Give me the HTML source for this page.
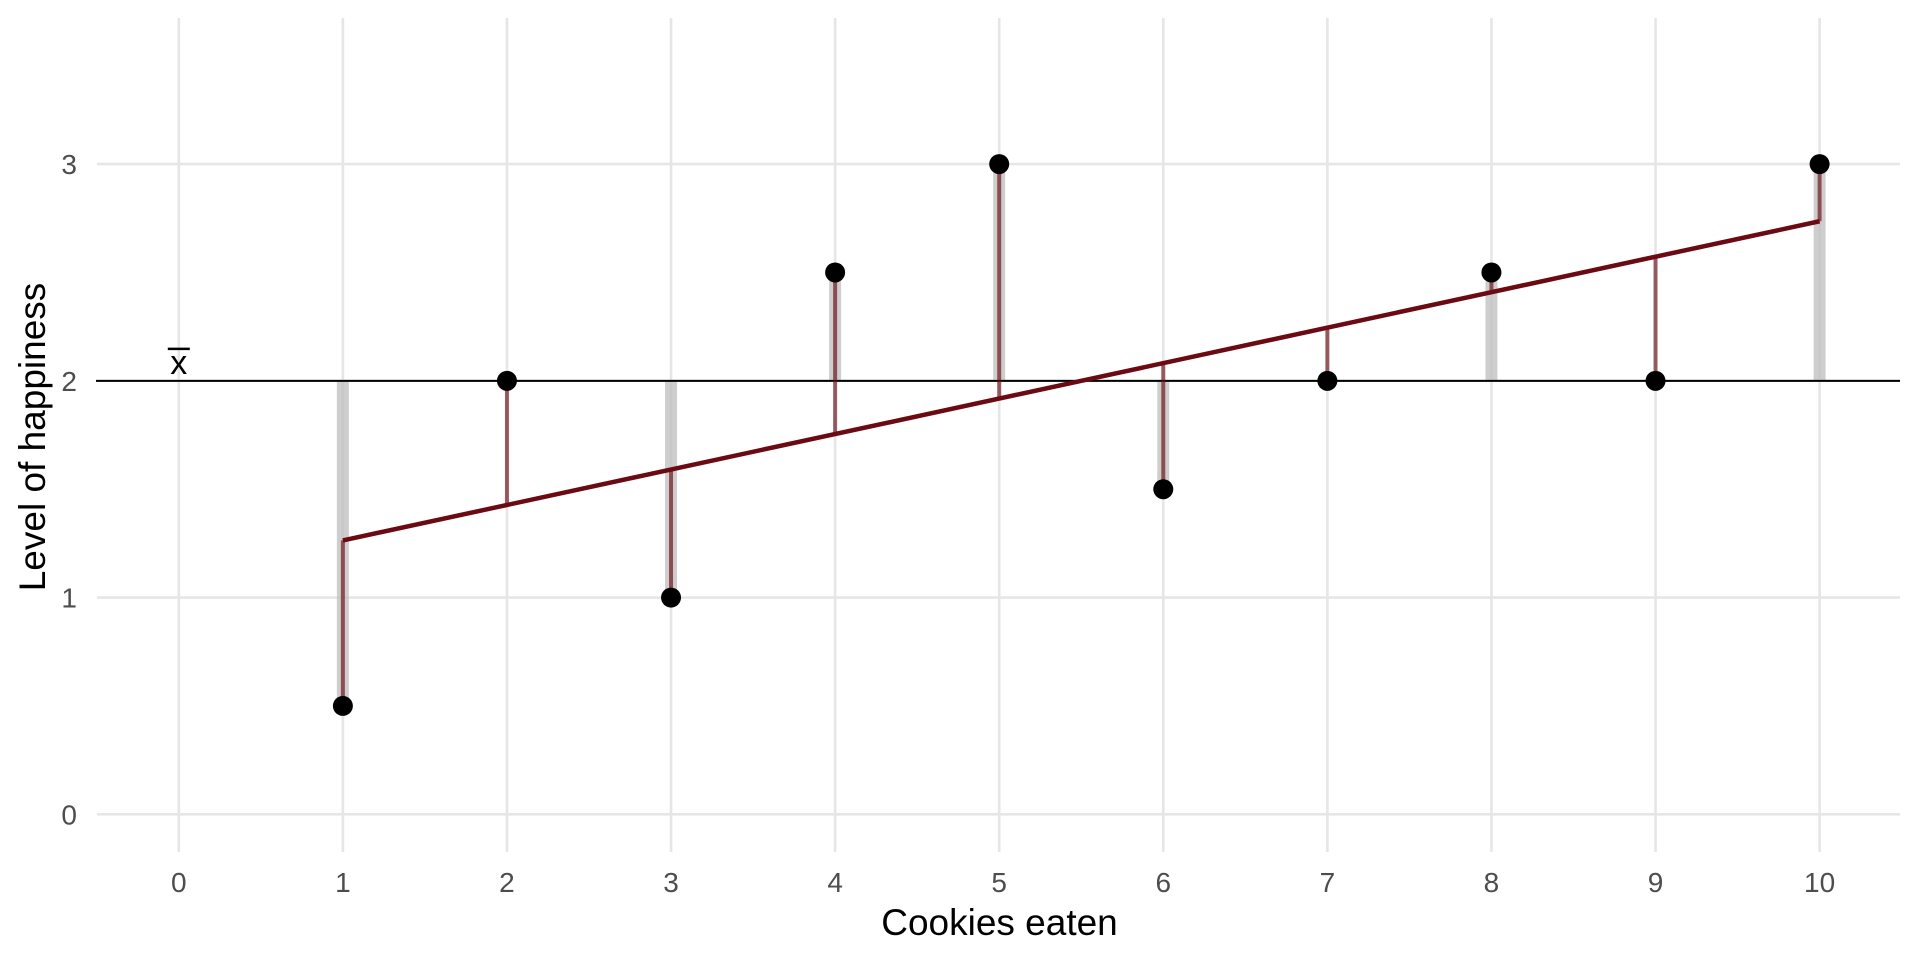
<!DOCTYPE html>
<html><head><meta charset="utf-8"><style>
html,body{margin:0;padding:0;background:#fff;}
svg{display:block;font-family:"Liberation Sans",sans-serif;}
</style></head><body>
<svg id="chart" width="1920" height="960" viewBox="0 0 1920 960" xmlns="http://www.w3.org/2000/svg">
<g id="grid"></g>
<g id="marks"></g>
<g id="labels"></g>
<text x="999.5" y="935" font-size="37" text-anchor="middle" fill="#000">Cookies eaten</text>
<text transform="translate(45,437) rotate(-90)" font-size="37" text-anchor="middle" fill="#000">Level of happiness</text>
</svg>
<script>
const xValues=[1,2,3,4,5,6,7,8,9,10];
const yValues=[0.5,2,1,2.5,3,1.5,2,2.5,2,3];
const xTicks=[0,1,2,3,4,5,6,7,8,9,10];
const yTicks=[0,1,2,3];
const NS="http://www.w3.org/2000/svg";
const X=v=>178.8+v*164.08;
const Y=v=>814.3-v*216.73;
const nPts=xValues.length;
const mx=xValues.reduce((a,b)=>a+b,0)/nPts, my=yValues.reduce((a,b)=>a+b,0)/nPts;
let sxy=0,sxx=0;
for(let i=0;i<nPts;i++){sxy+=(xValues[i]-mx)*(yValues[i]-my);sxx+=(xValues[i]-mx)**2;}
const slope=sxy/sxx, icpt=my-slope*mx;
function mk(tag,attrs,parent){const e=document.createElementNS(NS,tag);for(const k in attrs)e.setAttribute(k,attrs[k]);document.getElementById(parent).appendChild(e);return e;}
const plotTop=18,plotBottom=852,plotLeft=97,plotRight=1900;
xTicks.forEach(t=>{
 const l=mk('line',{x1:X(t),x2:X(t),y1:plotTop,y2:plotBottom,stroke:'#e6e6e6','stroke-width':2.6},'grid');
 
 
 const tx=mk('text',{x:X(t),y:892,'font-size':28,'text-anchor':'middle',fill:'#4d4d4d'},'labels');
 tx.textContent=t;
 
 
});
yTicks.forEach(t=>{
 const l=mk('line',{x1:plotLeft,x2:plotRight,y1:Y(t),y2:Y(t),stroke:'#e6e6e6','stroke-width':2.6},'grid');
 
 
 const tx=mk('text',{x:77,y:Y(t)+10,'font-size':28,'text-anchor':'end',fill:'#4d4d4d'},'labels');
 tx.textContent=t;
 
 
});
for(let i=0;i<nPts;i++){
 const l=mk('line',{x1:X(xValues[i]),x2:X(xValues[i]),y1:Y(my),y2:Y(yValues[i]),stroke:'#bdbdbd','stroke-opacity':0.75,'stroke-width':12},'marks');
 
 
}
const ml=mk('line',{x1:96,x2:plotRight,y1:Y(my),y2:Y(my),stroke:'#000','stroke-width':2},'marks');


const xb=mk('text',{x:X(0),y:Y(my)-7,'font-size':34,'text-anchor':'middle',fill:'#000'},'labels');
xb.textContent='x';


const xbar=mk('line',{x1:X(0)-11,x2:X(0)+11,y1:Y(my)-32,y2:Y(my)-32,stroke:'#000','stroke-width':2.5},'labels');


for(let i=0;i<nPts;i++){
 const f=icpt+slope*xValues[i];
 const l=mk('line',{x1:X(xValues[i]),x2:X(xValues[i]),y1:Y(f),y2:Y(yValues[i]),stroke:'#6b0a12','stroke-opacity':0.65,'stroke-width':4},'marks');
 
 
}
const xMin=Math.min(...xValues),xMax=Math.max(...xValues);
const rl=mk('line',{x1:X(xMin),x2:X(xMax),y1:Y(icpt+slope*xMin),y2:Y(icpt+slope*xMax),stroke:'#6b0a12','stroke-width':4.5},'marks');


for(let i=0;i<nPts;i++){
 const c=mk('circle',{cx:X(xValues[i]),cy:Y(yValues[i]),r:10,fill:'#000'},'marks');
 
 
}
</script>
</body></html>
